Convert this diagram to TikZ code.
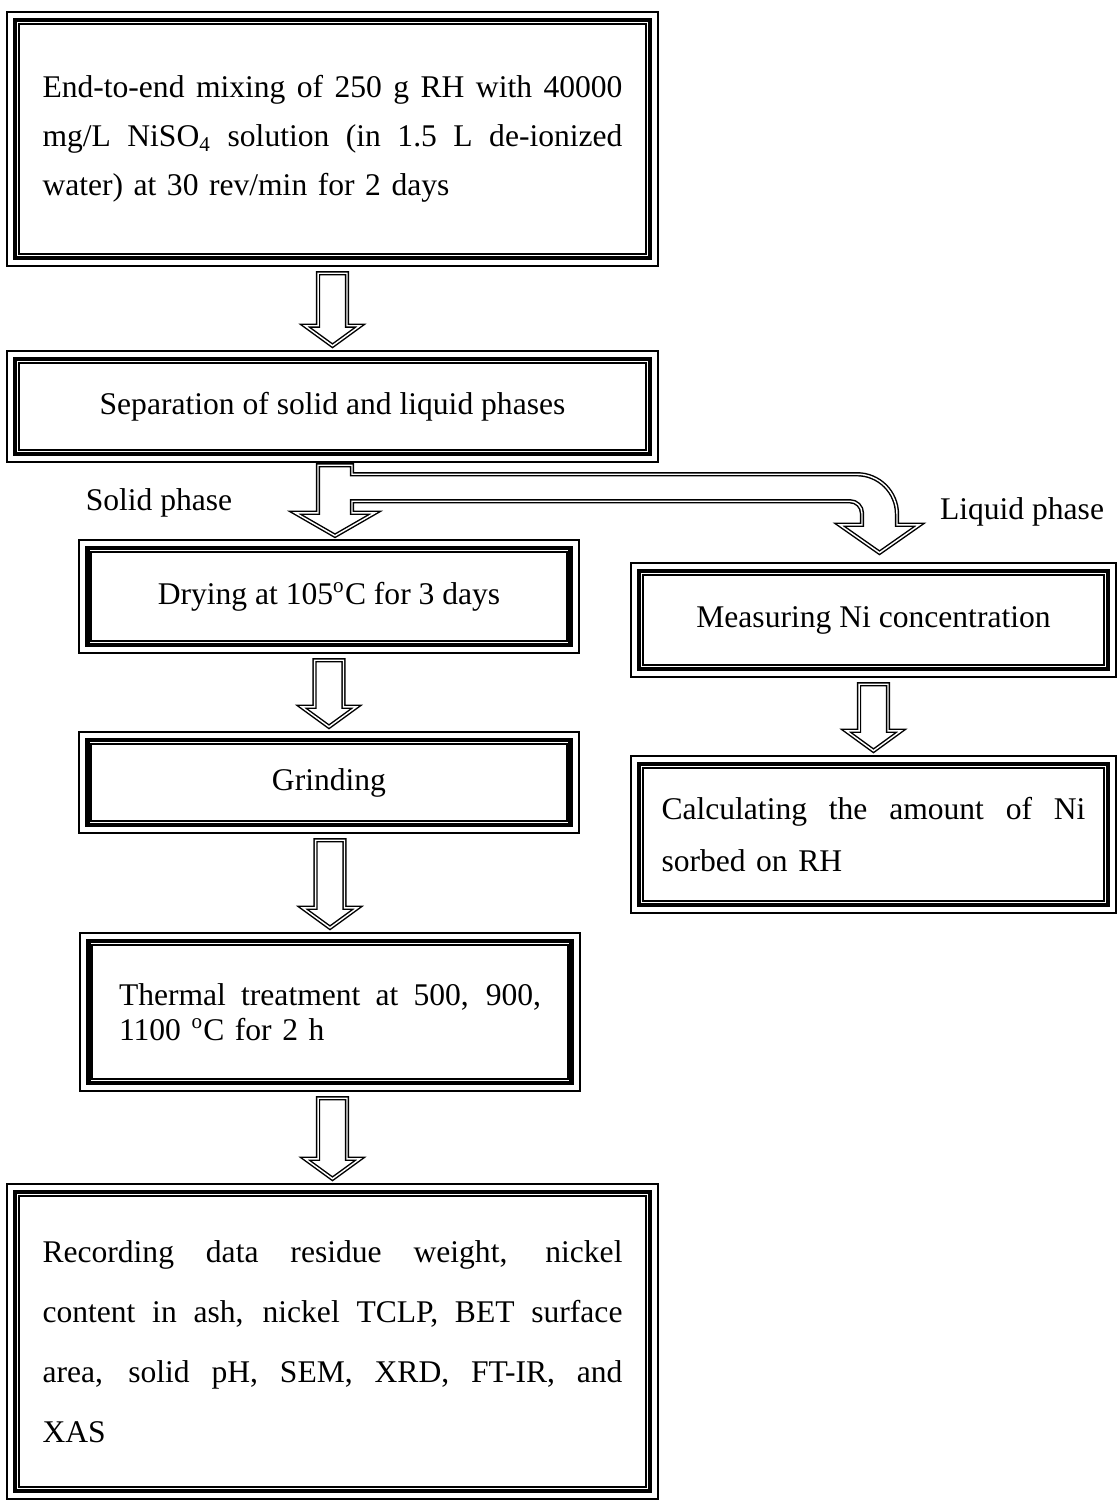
\documentclass[tikz,border=0pt]{standalone}
\usepackage{fontspec}
\setmainfont{Liberation Serif}
\usetikzlibrary{calc}
\def\px{0.38pt}
% a justified line: the word spaces stretch to fill the width
\newcommand{\jline}[2]{\leavevmode\hbox to #1{\spaceskip=.25em plus 1fill\xspaceskip=\spaceskip #2}}
% hollow block arrow from one box down to the next
\newcommand{\blockarrow}[2]{%
  \draw[hollow] let \p1=($(#1.south)+(0,13)$), \p2=($(#2.north)+(0,-11)$) in
    (\x2-5.5pt,\y1) -- (\x2+5.5pt,\y1) -- (\x2+5.5pt,\y2+7.6pt) -- (\x2+10.45pt,\y2+7.6pt)
    -- (\x2,\y2) -- (\x2-10.45pt,\y2+7.6pt) -- (\x2-5.5pt,\y2+7.6pt) -- cycle;}

\begin{document}
\begin{tikzpicture}[x=0.38pt, y=-0.38pt,
  box/.style={draw, line width=1.7pt, inner sep=0pt, align=center,
              font=\fontsize{12}{18.6}\selectfont},
  hollow/.style={draw, line width=0.55pt, double=white, double distance=0.55pt},
  lbl/.style={font=\fontsize{12}{14}\selectfont, inner sep=0pt}]
  \useasboundingbox (0,0) rectangle (1117,1501);

  % solid phase column
  \node[box, minimum width=635*\px, minimum height=238*\px, text width=580*\px, align=left]
    (mix) at (332.5,139)
    {\jline{220.4pt}{End-to-end mixing of 250 g RH with 40000}\\
     \jline{220.4pt}{mg/L NiSO\textsubscript{4} solution (in 1.5 L de-ionized}\\
     water) at 30 rev/min for 2 days};
  \node[box, minimum width=635*\px, minimum height=95*\px] (sep) at (332.5,406.5)
    {Separation of solid and liquid phases};
  \node[box, minimum width=483*\px, minimum height=97*\px] (dry) at (329,596.5)
    {Drying at 105\textsuperscript{o}C for 3 days};
  \node[box, minimum width=483*\px, minimum height=85*\px] (grind) at (329,782.5)
    {Grinding};
  \node[box, minimum width=483*\px, minimum height=142*\px, text width=422*\px, align=left,
        font=\fontsize{12}{13.3}\selectfont] (heat) at (330,1012)
    {\jline{160.4pt}{Thermal treatment at 500, 900,}\\ 1100 \textsuperscript{o}C for 2 h};
  \node[box, minimum width=635*\px, minimum height=299*\px, text width=580*\px, align=left,
        font=\fontsize{12}{22.8}\selectfont] (rec) at (332.5,1341.5)
    {\jline{220.4pt}{Recording data residue weight, nickel}\\
     \jline{220.4pt}{content in ash, nickel TCLP, BET surface}\\
     \jline{220.4pt}{area, solid pH, SEM, XRD, FT-IR, and}\\
     XAS\par\vspace*{6pt}};

  % liquid phase column
  \node[box, minimum width=469*\px, minimum height=98*\px] (meas) at (873.5,620)
    {Measuring Ni concentration};
  \node[box, minimum width=469*\px, minimum height=141*\px, text width=424*\px, align=left,
        font=\fontsize{12}{19.8}\selectfont] (calc) at (873.5,834.5)
    {\jline{161.1pt}{Calculating the amount of Ni}\\ sorbed on RH};

  % thin outer and inner frame lines
  \foreach \n in {mix,sep,dry,grind,heat,rec,meas,calc} {
    \draw[line width=0.75pt] ([shift={(-6,-6)}]\n.north west) rectangle ([shift={(6,6)}]\n.south east);
    \draw[line width=0.75pt] ([shift={(6,6)}]\n.north west) rectangle ([shift={(-6,-6)}]\n.south east);
  }

  % arrows
  \blockarrow{mix}{sep}
  \blockarrow{dry}{grind}
  \blockarrow{grind}{heat}
  \blockarrow{heat}{rec}
  \blockarrow{meas}{calc}

  % split arrow
  \draw[hollow] let \p1=($(sep.south)+(0,9)$), \p2=($(dry.north)+(6,-10)$),
                    \p3=($(meas.north)+(6,-16)$) in
    (\x2-6.46pt,\y1) -- (\x2+6.46pt,\y1) -- (\x2+6.46pt,\y1-3.42pt)
    -- (\x3+6.65pt-15.2pt,\y1-3.42pt) arc[start angle=90, end angle=0, radius=15.2pt]
    -- (\x3+6.65pt,\y3+10.64pt) -- (\x3+15.2pt,\y3+10.64pt) -- (\x3,\y3)
    -- (\x3-15.2pt,\y3+10.64pt) -- (\x3-6.65pt,\y3+10.64pt)
    -- (\x3-6.65pt,\y1-18.24pt) arc[start angle=0, end angle=90, radius=4.56pt]
    -- (\x2+6.46pt,\y1-13.68pt) -- (\x2+6.46pt,\y2+8.74pt) -- (\x2+15.2pt,\y2+8.74pt)
    -- (\x2,\y2) -- (\x2-15.2pt,\y2+8.74pt) -- (\x2-6.46pt,\y2+8.74pt) -- cycle;

  \node[lbl] (solid) at (159,503) {Solid phase};
  \node[lbl] (liquid) at (1022,512) {Liquid phase};
\end{tikzpicture}
\end{document}
